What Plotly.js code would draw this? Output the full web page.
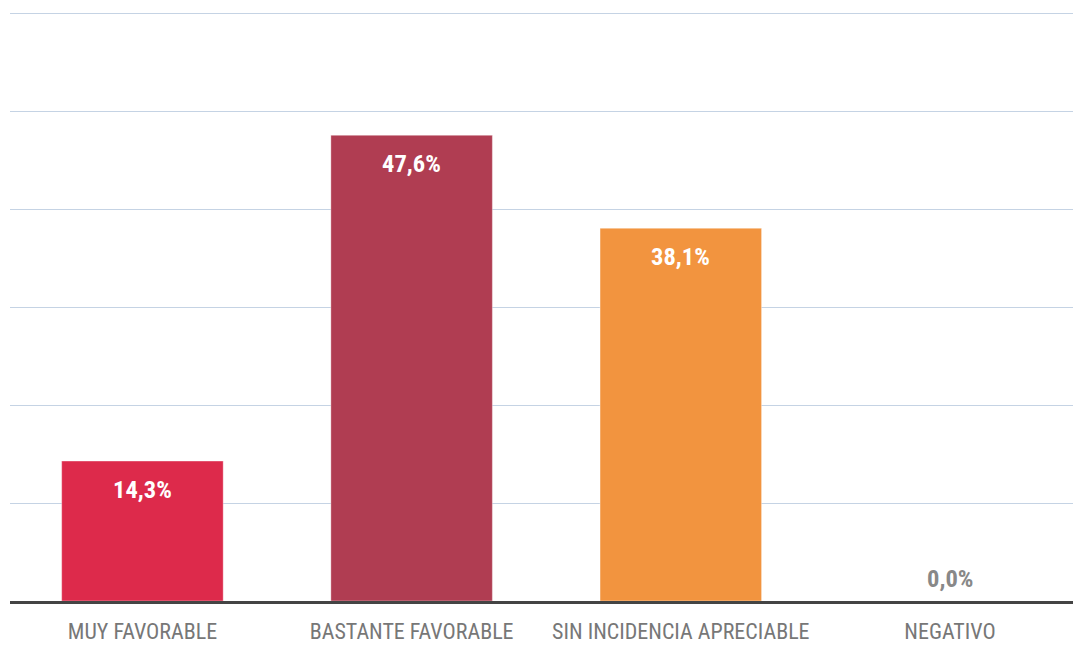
<!DOCTYPE html>
<html>
<head>
<meta charset="utf-8">
<script src="https://cdn.plot.ly/plotly-3.0.1.min.js"></script>
<style>html,body{margin:0;padding:0;background:#fff;}#chart{width:1073px;height:645px;}</style>
</head>
<body>
<div id="chart"></div>
<script>
const categories = ["MUY FAVORABLE", "BASTANTE FAVORABLE", "SIN INCIDENCIA APRECIABLE", "NEGATIVO"];
const values = [14.3, 47.6, 38.1, 0.0];
const labels = ["14,3%", "47,6%", "38,1%", "0,0%"];
const colors = ["#dd2a4b", "#b03d52", "#f2943f", "#999999"];

const FONT = '"Roboto Condensed", "Liberation Sans Narrow", Roboto, sans-serif';

const trace = {
  type: "bar",
  x: categories,
  y: values,
  marker: { color: colors, line: { color: "rgba(255,255,255,0.35)", width: 1 } },
  hoverinfo: "none"
};

const annotations = categories.map((c, i) => ({
  x: c,
  y: values[i],
  xref: "x",
  yref: "y",
  text: "<b>" + labels[i] + "</b>",
  showarrow: false,
  yanchor: "middle",
  yshift: values[i] > 0 ? -28 : 23,
  font: { family: FONT, size: 24.5, color: values[i] > 0 ? "#ffffff" : "#888888", stretch: "condensed" }
}));

const layout = {
  width: 1073,
  height: 645,
  margin: { l: 10, r: 0, t: 12, b: 44 },
  paper_bgcolor: "#ffffff",
  plot_bgcolor: "#ffffff",
  bargap: 0.4,
  showlegend: false,
  xaxis: {
    type: "category",
    range: [-0.492, 3.457],
    showline: true,
    linecolor: "#444444",
    linewidth: 3,
    ticks: "",
    tickangle: 0,
    ticklabelstandoff: 9,
    tickfont: { family: FONT, size: 22, color: "#777777", stretch: "condensed" },
    showgrid: false,
    zeroline: false
  },
  yaxis: {
    range: [0, 60.2],
    dtick: 10,
    showticklabels: false,
    showgrid: true,
    gridcolor: "#c5d3e4",
    gridwidth: 1,
    zeroline: false,
    showline: false,
    ticks: ""
  },
  annotations: annotations
};

Plotly.newPlot("chart", [trace], layout, { displayModeBar: false, staticPlot: true });
</script>
</body>
</html>
